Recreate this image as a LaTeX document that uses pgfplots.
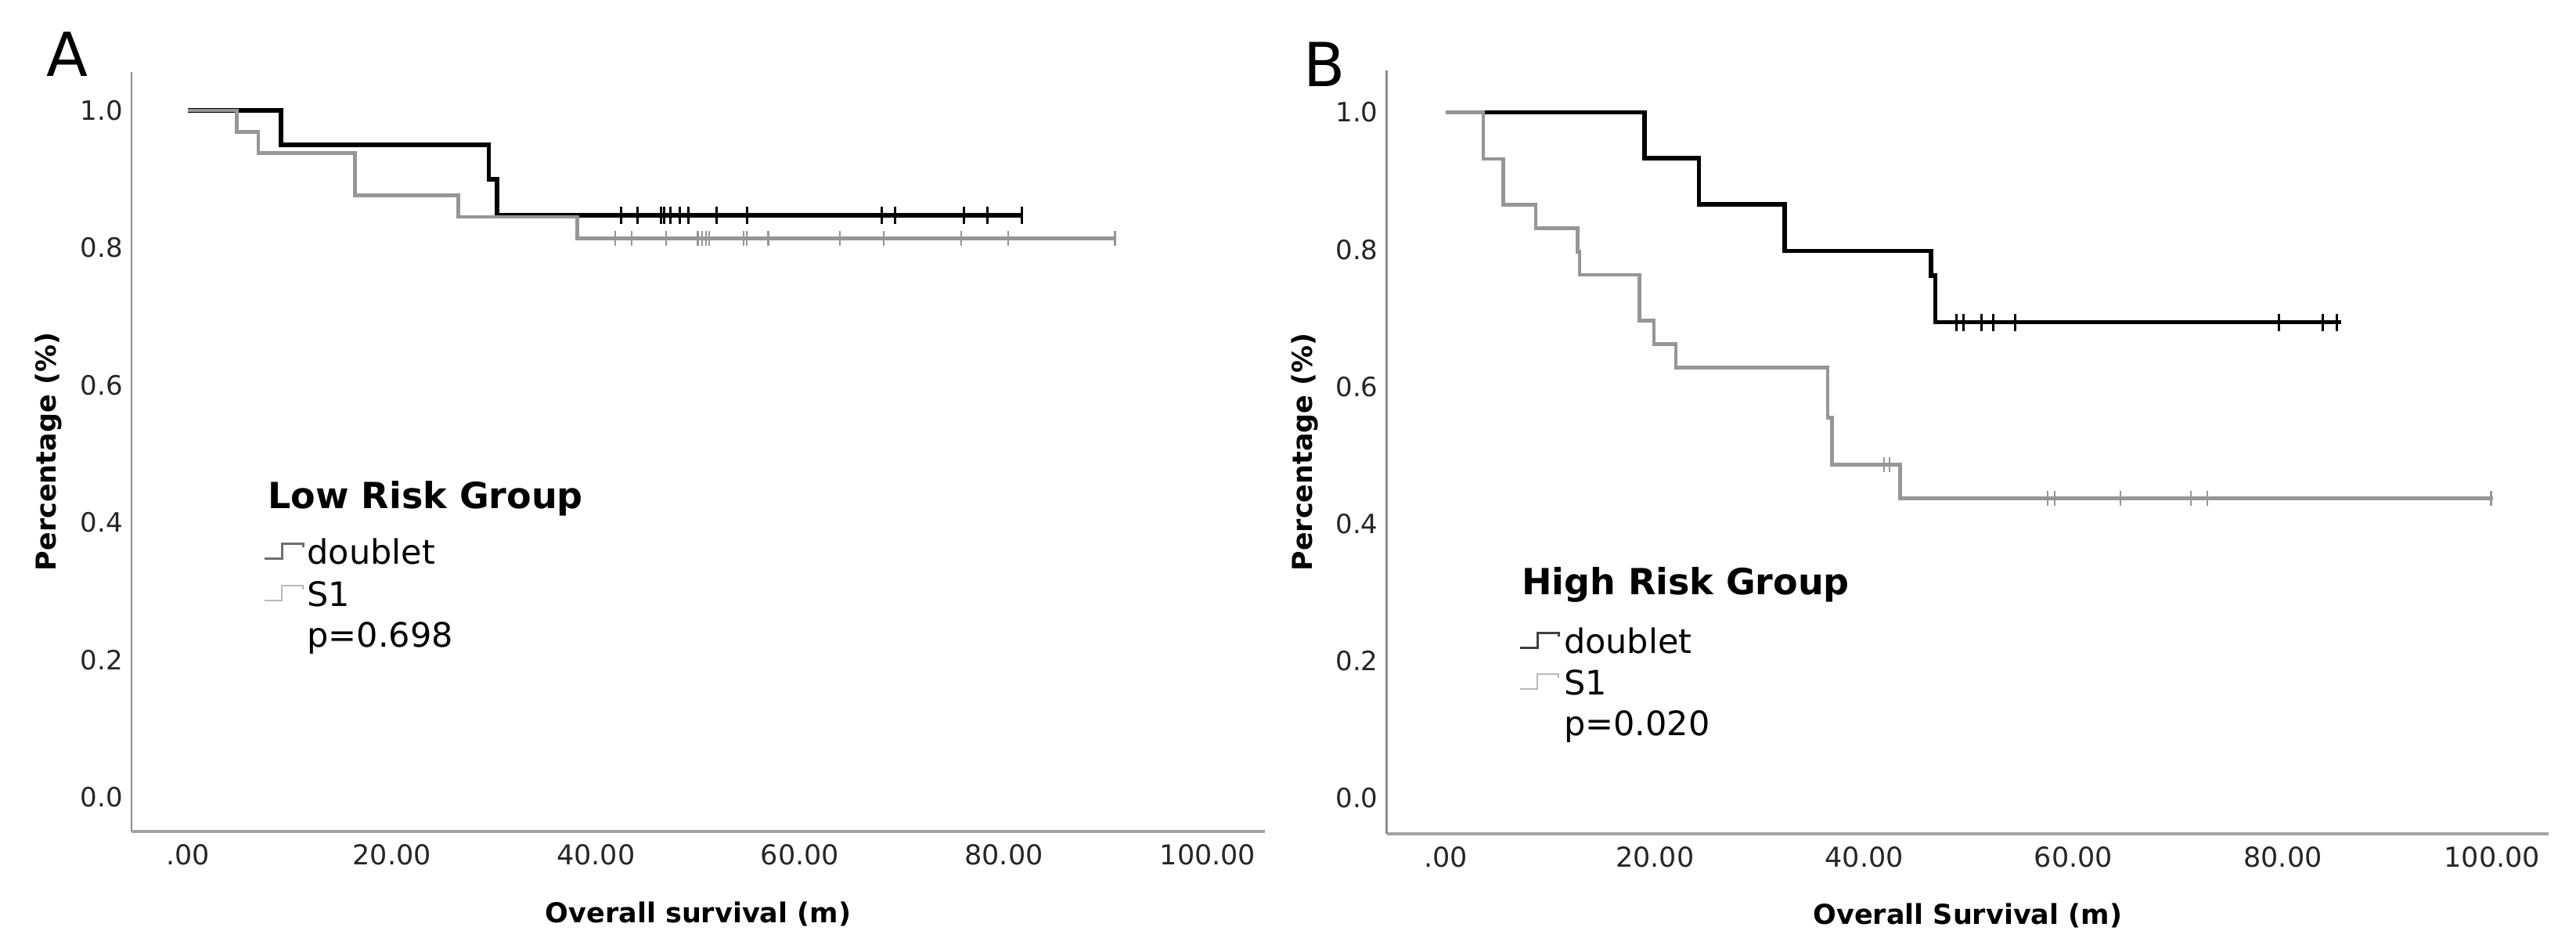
\documentclass[border=0pt]{standalone}
\usepackage{fontspec}
\setmainfont{DejaVu Sans}
\usepackage{pgfplots}
\pgfplotsset{compat=1.18}
\definecolor{kmgray}{RGB}{150,150,150}
\definecolor{axgray}{RGB}{165,165,165}
\definecolor{axgray2}{RGB}{140,140,140}
\definecolor{icdark}{RGB}{110,110,110}
\definecolor{iclight}{RGB}{185,185,185}

\pgfplotsset{kmaxis/.style={
  scale only axis,
  clip=false,
  axis x line*=bottom, axis y line*=left,
  x axis line style={-, draw=axgray, line width=0.9pt},
  y axis line style={-, draw=axgray2, line width=0.45pt},
  major tick length=0pt,
  tick style={draw=none},
  xtick={0,20,40,60,80,100},
  xticklabels={.00,20.00,40.00,60.00,80.00,100.00},
  ytick={0,0.2,0.4,0.6,0.8,1.0},
  yticklabels={0.0,0.2,0.4,0.6,0.8,1.0},
  /pgf/number format/assume math mode=true,
  xticklabel style={font=\fontsize{7}{8}\selectfont, inner sep=0pt, anchor=north, yshift=-3.2pt, text=black!85},
  yticklabel style={font=\fontsize{6.8}{8}\selectfont, inner sep=0pt, anchor=east, xshift=-2pt, text=black!85},
  label style={font=\bfseries\fontsize{7}{8}\selectfont},
  xlabel style={anchor=base},
  ylabel style={anchor=base},
}}
\tikzset{
  dblk/.style={const plot, black, line width=1.15pt, line join=miter},
  sgry/.style={const plot, kmgray, line width=0.95pt, line join=miter},
  cblk/.style={only marks, mark=|, mark size=2.2pt, mark options={line width=0.6pt, draw=black}},
  cgry/.style={only marks, mark=|, mark size=1.9pt, mark options={line width=0.45pt, draw=kmgray}},
}

\begin{document}
\begin{tikzpicture}
\path[use as bounding box] (0pt,0pt) rectangle (658.2pt,241.2pt);

% ---------------- Panel A ----------------
\begin{axis}[kmaxis,
  at={(33.6pt,28.8pt)}, anchor=south west,
  width=289.6pt, height=194pt,
  xmin=-5.53, xmax=105.6, ymin=-0.050, ymax=1.056,
  xlabel={Overall survival (m)},
  ylabel={Percentage (\%)},
  xlabel style={at={(axis description cs:0.5,-0.1199)}},
  ylabel style={at={(axis description cs:-0.0663,0.5)}},
]
\addplot[dblk] coordinates {(0,1) (9.1,0.95) (29.5,0.9) (30.3,0.847) (81.9,0.847)};
\addplot[sgry] coordinates {(0,1) (4.8,0.969) (6.9,0.938) (16.4,0.876) (26.5,0.845) (38.2,0.8135) (91.0,0.8135)};
\addplot[cblk] coordinates {(42.5,0.847) (44.1,0.847) (46.4,0.847) (46.7,0.847) (47.3,0.847) (48.2,0.847) (49.1,0.847) (51.8,0.847) (54.8,0.847) (68.0,0.847) (69.3,0.847) (76.1,0.847) (78.4,0.847) (81.8,0.847)};
\addplot[cgry] coordinates {(41.9,0.8135) (43.5,0.8135) (46.9,0.8135) (50.0,0.8135) (50.4,0.8135) (50.8,0.8135) (51.1,0.8135) (54.5,0.8135) (54.8,0.8135) (56.9,0.8135) (63.9,0.8135) (68.2,0.8135) (75.8,0.8135) (80.4,0.8135) (90.9,0.8135)};
\end{axis}

% ---------------- Panel B ----------------
\begin{axis}[kmaxis,
  at={(354.3pt,28.24pt)}, anchor=south west,
  width=296.9pt, height=194.96pt,
  xmin=-5.64, xmax=105.4, ymin=-0.0517, ymax=1.061,
  xlabel={Overall Survival (m)},
  ylabel={Percentage (\%)},
  xlabel style={at={(axis description cs:0.5,-0.119)}},
  ylabel style={at={(axis description cs:-0.0637,0.5)}},
]
\addplot[dblk] coordinates {(0,1) (19.0,0.933) (24.2,0.866) (32.4,0.798) (46.4,0.762) (46.8,0.694) (85.6,0.694)};
\addplot[sgry] coordinates {(0,1) (3.6,0.932) (5.5,0.865) (8.6,0.831) (12.6,0.797) (12.8,0.763) (18.5,0.696) (19.9,0.662) (22.0,0.628) (36.5,0.555) (36.9,0.486) (43.4,0.437) (100.1,0.437)};
\addplot[cblk] coordinates {(48.8,0.694) (49.5,0.694) (51.2,0.694) (52.3,0.694) (54.4,0.694) (79.6,0.694) (83.8,0.694) (85.2,0.694)};
\addplot[cgry] coordinates {(41.9,0.486) (42.4,0.486) (57.5,0.437) (58.2,0.437) (64.5,0.437) (71.2,0.437) (72.8,0.437) (99.9,0.437)};
\end{axis}

% ---------------- panel letters ----------------
\node[anchor=base west, inner sep=0pt, font=\fontsize{15.5}{18}\selectfont] at (11.8pt,221.6pt) {A};
\node[anchor=base west, inner sep=0pt, font=\fontsize{15.5}{18}\selectfont] at (332.8pt,219pt) {B};

% ---------------- legend A ----------------
\node[anchor=base west, inner sep=0pt, font=\bfseries\fontsize{9.2}{11}\selectfont] at (68.3pt,111.4pt) {Low Risk Group};
\node[anchor=base west, inner sep=0pt, font=\fontsize{8.6}{10}\selectfont] at (78.3pt,97.2pt) {doublet};
\node[anchor=base west, inner sep=0pt, font=\fontsize{8.6}{10}\selectfont] at (78.3pt,86.4pt) {S1};
\node[anchor=base west, inner sep=0pt, font=\fontsize{8.6}{10}\selectfont] at (78.3pt,76.0pt) {p=0.698};
\draw[icdark, line width=0.6pt] (67.6pt,98.6pt) -- ++(4.4pt,0) -- ++(0,3.8pt) -- ++(5.4pt,0) -- ++(0,-1pt);
\draw[iclight, line width=0.55pt] (67.6pt,87.8pt) -- ++(4.4pt,0) -- ++(0,3.8pt) -- ++(5.4pt,0) -- ++(0,-1pt);

% ---------------- legend B ----------------
\node[anchor=base west, inner sep=0pt, font=\bfseries\fontsize{9.2}{11}\selectfont] at (388.6pt,89.4pt) {High Risk Group};
\node[anchor=base west, inner sep=0pt, font=\fontsize{8.6}{10}\selectfont] at (399.4pt,74.4pt) {doublet};
\node[anchor=base west, inner sep=0pt, font=\fontsize{8.6}{10}\selectfont] at (399.4pt,63.8pt) {S1};
\node[anchor=base west, inner sep=0pt, font=\fontsize{8.6}{10}\selectfont] at (399.4pt,53.4pt) {p=0.020};
\draw[black!75, line width=0.6pt] (388.4pt,75.8pt) -- ++(4.4pt,0) -- ++(0,3.8pt) -- ++(5.4pt,0) -- ++(0,-1pt);
\draw[iclight, line width=0.55pt] (388.4pt,65.2pt) -- ++(4.4pt,0) -- ++(0,3.8pt) -- ++(5.4pt,0) -- ++(0,-1pt);
\end{tikzpicture}
\end{document}
